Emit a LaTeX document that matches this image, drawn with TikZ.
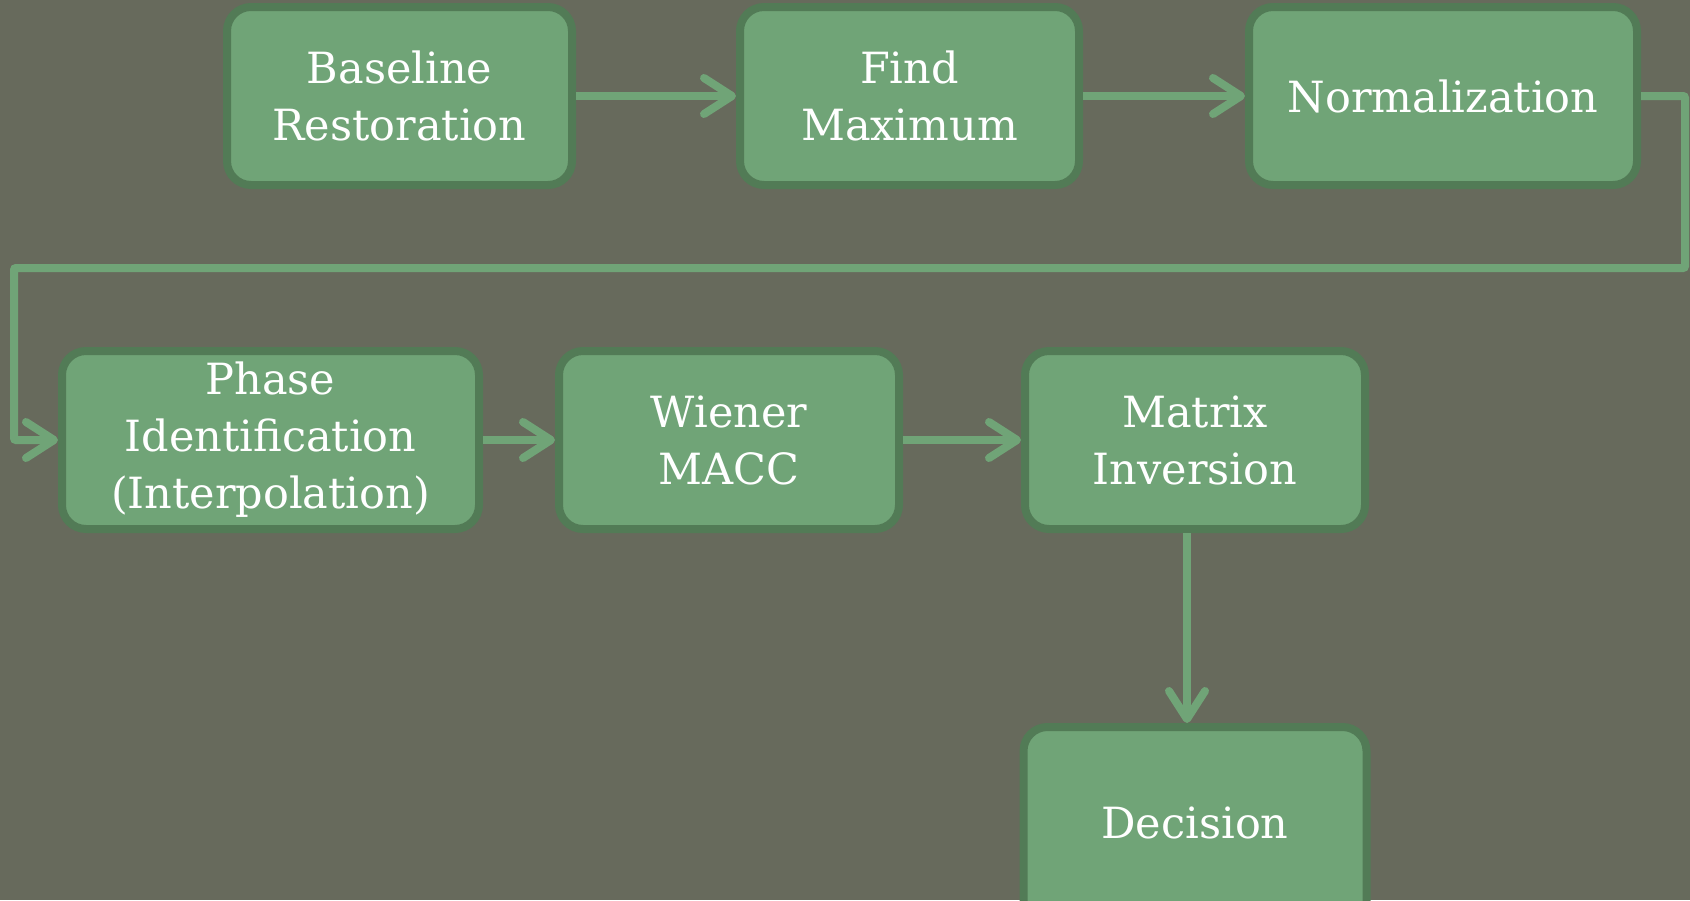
\documentclass[tikz,border=0pt]{standalone}
\usepackage{fontspec}
\setmainfont{DejaVu Serif}
\usetikzlibrary{arrows.meta}

\definecolor{slate}{HTML}{676A5C}
\definecolor{boxfill}{HTML}{70A477}
\definecolor{boxedge}{HTML}{527B56}

\tikzset{
  stepbox/.style={draw=boxedge, fill=boxfill, line width=4pt, rounded corners=12pt,
    minimum height=89pt, text=white, align=center, inner xsep=2pt,
    font=\fontsize{21.5}{28.5}\selectfont},
  link/.style={draw=boxfill, line width=4pt,
    -{Straight Barb[length=14pt,width=18pt,line cap=round,line join=round]}},
}

\begin{document}
\begin{tikzpicture}[x=.5pt,y=-.5pt]
\clip (0,0) rectangle (1690,900);
\fill[slate] (0,0) rectangle (1690,900);

% top row
\node[stepbox,minimum width=172.5pt] (base) at (399.5,96) {Baseline\\Restoration};
\node[stepbox,minimum width=169.5pt] (findmax) at (909.5,96) {Find\\Maximum};
\node[stepbox,minimum width=194pt] (norm) at (1443,96) {Normalization};

% second row
\node[stepbox,minimum width=208.5pt] (phase) at (270.5,440) {Phase\\Identification\\(Interpolation)};
\node[stepbox,minimum width=170pt] (wiener) at (729,440) {Wiener\\MACC};
\node[stepbox,minimum width=170pt] (matinv) at (1195,440) {Matrix\\Inversion};
% runs off the bottom edge
\node[stepbox,minimum width=171.5pt,minimum height=100pt] (decide) at (1195,827) {\raisebox{4pt}{Decision}};

% turn-around points of the long return line
\coordinate (r1) at (1685,96);
\coordinate (r2) at (1685,268);
\coordinate (r3) at (14,268);
\coordinate (r4) at (14,440);

\draw[link] (base) -- (findmax);
\draw[link] (findmax) -- (norm);
\draw[link,rounded corners=1pt] (norm.east) -- (r1) -- (r2) -- (r3) -- (r4) -- (phase.west);
\draw[link] (phase) -- (wiener);
\draw[link] (wiener) -- (matinv);
\draw[link] ([xshift=-4pt]matinv.south) -- ([xshift=-4pt]decide.north);
\end{tikzpicture}
\end{document}
